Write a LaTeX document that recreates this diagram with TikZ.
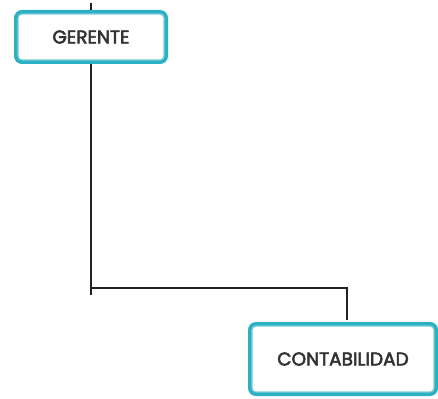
\documentclass[tikz,border=0pt]{standalone}
\usepackage{fontspec}
\setmainfont{Poppins}
\newfontfamily\boxfont[FakeBold=3]{Poppins}
\usetikzlibrary{calc}
\definecolor{teal1}{HTML}{2BB0C4}
\definecolor{teal2}{HTML}{7FD0DC}
\definecolor{ink}{HTML}{333333}
\definecolor{wire}{HTML}{222222}
\tikzset{
  box/.style={draw=teal1, line width=4pt, rounded corners=6pt, fill=white,
    text=ink, font=\boxfont\fontsize{18.5}{22}\selectfont, inner sep=0pt},
  innerline/.style={draw=teal2, line width=1.2pt, rounded corners=4pt},
  conn/.style={draw=wire, line width=2.4pt}
}
\begin{document}
\begin{tikzpicture}[x=1pt,y=-1pt]
\useasboundingbox (0,0) rectangle (438,398);
\node[box, minimum width=150pt, minimum height=50pt] (g) at (91,37) {GERENTE};
\draw[innerline] ($(g.north west)+(4,4)$) rectangle ($(g.south east)+(-4,-4)$);
\node[box, minimum width=186pt, minimum height=70pt] (c) at (343,359) {CONTABILIDAD};
\draw[innerline] ($(c.north west)+(4,4)$) rectangle ($(c.south east)+(-4,-4)$);
\coordinate (j) at (91,288);
\coordinate (k) at (347,288);
\coordinate (ctop) at ($(c.north)+(4,-2)$);
\draw[conn] (g.south) -- (j) -- (k) -- (ctop);
\draw[conn] (j) -- ++(0,7);
\draw[conn] (g.north) -- ++(0,-7);
\end{tikzpicture}
\end{document}
